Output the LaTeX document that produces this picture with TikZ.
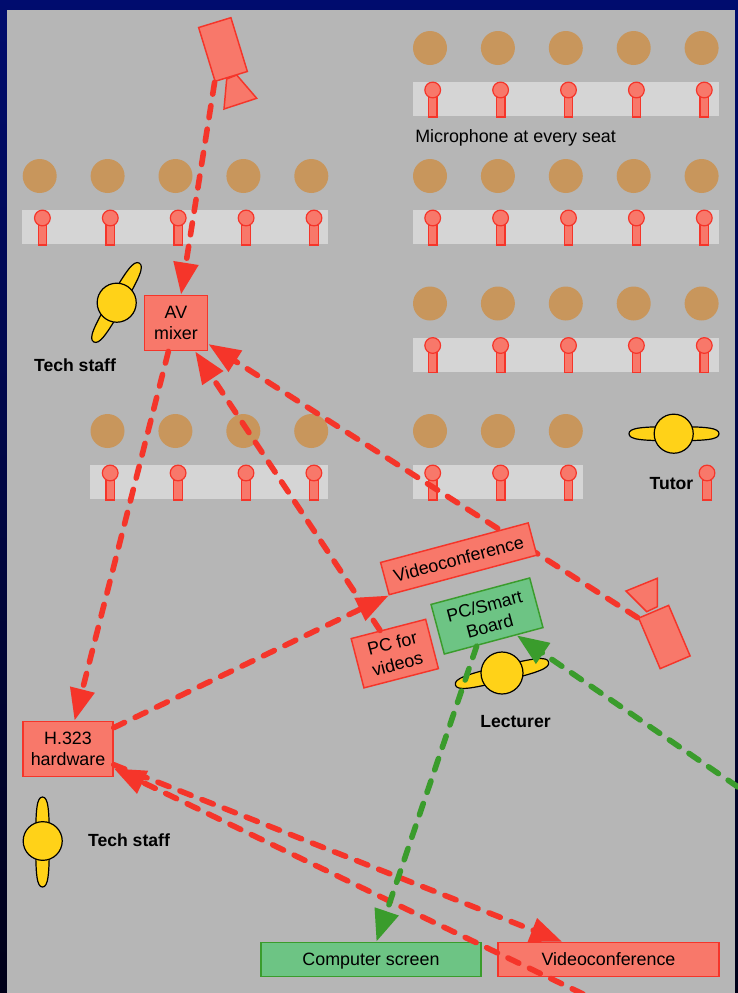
\documentclass[tikz,border=0pt]{standalone}
\usepackage{fontspec}
\setmainfont{Liberation Sans}
\usetikzlibrary{arrows.meta,shapes.geometric}
\definecolor{panel}{HTML}{B6B6B6}
\definecolor{strip}{HTML}{D5D5D5}
\definecolor{seat}{HTML}{C8965C}
\definecolor{redfill}{HTML}{F8786A}
\definecolor{redline}{HTML}{F5352A}
\definecolor{greenfill}{HTML}{6DC484}
\definecolor{greenline}{HTML}{3A9C2C}
\definecolor{person}{HTML}{FFD218}
\definecolor{navytop}{HTML}{000C6E}
\definecolor{navybot}{HTML}{000018}
\pgfdeclarelayer{back}
\pgfdeclarelayer{mid}
\pgfdeclarelayer{top}
\pgfsetlayers{back,mid,main,top}
\tikzset{
  redbox/.style={draw=redline,fill=redfill,line width=1.1pt,inner sep=0pt,align=center,font=\fontsize{13.4pt}{15.75pt}\selectfont},
  greenbox/.style={draw=greenline,fill=greenfill,line width=1.1pt,inner sep=0pt,align=center,font=\fontsize{13.4pt}{15.75pt}\selectfont},
  camerabody/.style={draw=redline,fill=redfill,line width=1.1pt,inner sep=0pt},
  lens/.style={draw=redline,fill=redfill,line width=1.1pt},
  micpart/.style={draw=redline,fill=redfill,line width=0.9pt},
  flowhead/.style={-{Triangle[length=24pt,width=18pt]}},
  redflow/.style={draw=redline,line width=4.2pt,line cap=round,dash pattern=on 9pt off 8.8pt,flowhead},
  greenflow/.style={draw=greenline,line width=4.2pt,line cap=round,dash pattern=on 9pt off 8.8pt,flowhead},
  armstyle/.style={draw=black,fill=person,line width=0.9pt},
  bodyround/.style={shape=ellipse,draw=black,fill=person,line width=0.9pt,inner sep=0pt},
  boldlabel/.style={inner sep=0pt,font=\fontsize{13.2pt}{16pt}\selectfont\bfseries},
  plainlabel/.style={inner sep=0pt,font=\fontsize{13.4pt}{16pt}\selectfont},
}
\newcommand{\micat}[2]{%
  \draw[micpart] ({(#1)-4.3},{(#2)+15}) rectangle ({(#1)+4.3},{(#2)+35});
  \draw[micpart] ({#1},{(#2)+8}) circle[radius=5.9pt];
}
\newcommand{\seatrow}[3]{% x0, strip top, number of seats
  \fill[strip] ({#1-17.5},#2) rectangle ({#1+(#3-1)*68+16.5},{#2+34});
  \foreach \s in {1,...,#3}{
    \fill[seat] ({#1+(\s-1)*67.9},{#2-34}) circle[radius=12.75pt];
    \micat{#1+(\s-1)*67.9+2.7}{#2}
  }
}
% blunt-ended arm: centre x, centre y, rotation, half length, half width
\newcommand{\armshape}[5]{%
  \begin{scope}[shift={(#1,#2)},rotate=#3]
    \draw[armstyle] (-#4,0)
      .. controls (-#4,{0.85*#5}) and ({-0.72*#4},#5) .. (0,#5)
      .. controls ({0.72*#4},#5) and (#4,{0.85*#5}) .. (#4,0)
      .. controls (#4,{-0.85*#5}) and ({0.72*#4},-#5) .. (0,-#5)
      .. controls ({-0.72*#4},-#5) and (-#4,{-0.85*#5}) .. (-#4,0) -- cycle;
  \end{scope}
}
\begin{document}
\begin{tikzpicture}[x=0.75pt,y=-0.75pt]
\useasboundingbox (0,0) rectangle (738,993);
\begin{pgfonlayer}{back}
  \shade[top color=navytop,bottom color=navybot] (0,0) rectangle (738,993);
  \fill[panel] (7,10) rectangle (735,993);
  \seatrow{430}{82}{5}
  \seatrow{39.7}{210}{5}
  \seatrow{430}{210}{5}
  \seatrow{430}{337.5}{5}
  \seatrow{107.5}{465}{4}
  \seatrow{430}{465}{3}
  \micat{707}{465}
\end{pgfonlayer}

% cameras
\draw[lens] (236.7,75) -- (256.7,98.3) -- (224,109) -- (226.7,79) -- cycle;
\node[camerabody,rotate=17,minimum width=25.3pt,minimum height=42.2pt] (camtop) at (223,49.5) {};
\draw[lens] (626,591) -- (657.3,578.3) -- (657.3,606.7) -- (646.7,611.7) -- cycle;
\node[camerabody,rotate=23,minimum width=24.4pt,minimum height=41.2pt] (camright) at (664.4,637) {};

% people
\armshape{116.5}{302.5}{60}{45.5}{7.5}
\node[bodyround,minimum width=29.3pt,minimum height=29.3pt] (bodyA) at (116.7,302.7) {};
\armshape{674}{433.7}{0}{45}{7}
\node[bodyround,minimum width=29.3pt,minimum height=29.3pt] (bodyT) at (673.7,433.7) {};
\armshape{502}{673.5}{13.7}{48}{7.5}
\node[bodyround,minimum width=31.5pt,minimum height=31.5pt] (bodyL) at (502,673) {};
\armshape{42.5}{842}{90}{45}{6.8}
\node[bodyround,minimum width=29.3pt,minimum height=29pt] (bodyS) at (42.7,841) {};

% boxes
\node[redbox,minimum width=47.5pt,minimum height=41.5pt] (av) at (176,323) {AV\\mixer};
\node[redbox,minimum width=67.5pt,minimum height=41.5pt] (h323) at (68,749) {H.323\\hardware};
\node[redbox,rotate=15,minimum width=114.6pt,minimum height=25pt] (vctilt) at (458.7,558.8) {Videoconference};
\node[greenbox,rotate=15,minimum width=76.6pt,minimum height=38.5pt] (board) at (487,616) {PC/Smart\\Board};
\node[redbox,rotate=14.5,minimum width=57.7pt,minimum height=38.2pt] (pcv) at (394.8,653.6) {PC for\\videos};
\node[greenbox,minimum width=165pt,minimum height=25.6pt,text depth=0pt] (screen) at (371,959.5) {Computer screen};
\node[redbox,minimum width=165.5pt,minimum height=25.6pt] (vcbottom) at (608.5,959.5) {Videoconference};

% labels
\node[plainlabel,anchor=west] (miclabel) at (415,138) {Microphone at every seat};
\node[boldlabel] (techA) at (75,365) {Tech staff};
\node[boldlabel] (techB) at (129,840) {Tech staff};
\node[boldlabel] (lecturer) at (515.5,721.5) {Lecturer};
\node[boldlabel] (tutor) at (671.5,484) {Tutor};

% free ends
\coordinate (rightedge) at (738,787);
\coordinate (bottomedge) at (583,994);

\begin{pgfonlayer}{mid}
  \draw[redflow] (camright.north west) -- (av.-33.7);
\end{pgfonlayer}
\begin{pgfonlayer}{top}
  \draw[redflow] (camtop.south west) -- (av.80);
  \draw[redflow] (av.255) -- (h323.77);
  \draw[redflow] (pcv.108) -- (av.-56);
  \draw[redflow] (h323.25.6) -- (vctilt.south west);
  \draw[redflow] (h323.-19.6) -- (vcbottom.159.4);
  \draw[redflow] (bottomedge) -- (h323.-23);
  \draw[greenflow] (board.236) -- (screen.73);
  \draw[greenflow] (rightedge) -- (board.-48.7);
\end{pgfonlayer}
\end{tikzpicture}
\end{document}
